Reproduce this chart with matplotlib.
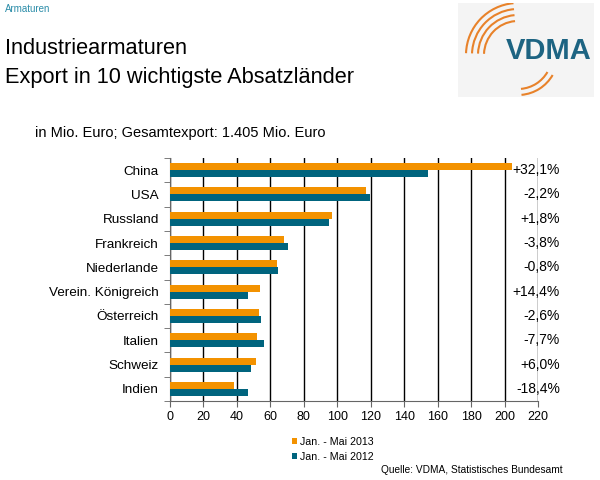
import numpy as np
import matplotlib.pyplot as plt
from matplotlib.patches import Arc, Rectangle

plt.rcParams['font.family'] = ['Liberation Sans', 'DejaVu Sans']

countries = ['China', 'USA', 'Russland', 'Frankreich', 'Niederlande',
             'Verein. Königreich', 'Österreich', 'Italien', 'Schweiz', 'Indien']
exp_2013 = [204.4, 117.2, 96.7, 68.0, 64.2, 53.6, 53.0, 51.8, 51.2, 38.3]
exp_2012 = [154.1, 119.6, 95.1, 70.4, 64.6, 46.9, 54.4, 56.4, 48.7, 46.9]
changes = ['+32,1%', '-2,2%', '+1,8%', '-3,8%', '-0,8%',
           '+14,4%', '-2,6%', '-7,7%', '+6,0%', '-18,4%']
x_ticks = list(range(0, 221, 20))

ORANGE = '#F39200'
TEAL = '#00647E'

fig = plt.figure(figsize=(6, 4.8), dpi=100)

# header texts
fig.text(5 / 600, 1 - 9 / 480, 'Armaturen', fontsize=7, color='#2a8ca8', va='center')
fig.text(5 / 600, 1 - 49 / 480, 'Industriearmaturen', fontsize=15.7, va='center')
fig.text(5 / 600, 1 - 77 / 480, 'Export in 10 wichtigste Absatzländer', fontsize=15.7, va='center')
fig.text(35 / 600, 1 - 133 / 480, 'in Mio. Euro; Gesamtexport: 1.405 Mio. Euro',
         fontsize=10.5, va='center')

# logo (local coords, y up)
lax = fig.add_axes([458 / 600, 1 - 97 / 480, 136 / 600, 94 / 480])
lax.set_xlim(0, 136)
lax.set_ylim(0, 94)
lax.axis('off')
lax.add_patch(Rectangle((0, 0), 136, 94, color='#f4f4f4'))
for r in [34, 40, 46, 52]:
    lax.add_patch(Arc((60, 42), 2 * r, 2 * r, theta1=95, theta2=178,
                      color='#E8822A', lw=1.5))
for r in [34, 40]:
    lax.add_patch(Arc((60, 42), 2 * r, 2 * r, theta1=-85, theta2=-30,
                      color='#E8822A', lw=1.5))
lax.text(134, 46, 'VDMA', fontsize=21, fontweight='bold', color='#1d6482',
         ha='right', va='center')

# main chart
ax = fig.add_axes([170 / 600, 1 - 401 / 480, 368 / 600, 243 / 480])
y = np.arange(len(countries))
h = 0.29
ax.barh(y - h / 2, exp_2013, height=h, color=ORANGE, label='Jan. - Mai 2013', zorder=3)
ax.barh(y + h / 2, exp_2012, height=h, color=TEAL, label='Jan. - Mai 2012', zorder=3)
ax.set_xlim(0, 220)
ax.set_ylim(len(countries) - 0.5, -0.5)
ax.set_xticks(x_ticks)
ax.tick_params(axis='x', labelsize=9, length=4, color='#666666')
ax.set_yticks(y)
ax.set_yticklabels(countries, fontsize=9.7)
ax.tick_params(axis='y', length=0, pad=8)
ax.set_yticks(np.arange(-0.5, len(countries), 1), minor=True)
ax.tick_params(axis='y', which='minor', length=4, color='#666666')
ax.grid(axis='x', color='black', lw=1, zorder=0)
for s in ['top', 'right']:
    ax.spines[s].set_visible(False)
ax.spines['left'].set_color('#666666')
ax.spines['bottom'].set_color('#666666')

for i, c in enumerate(changes):
    ax.text(1.06, i, c, transform=ax.get_yaxis_transform(), ha='right',
            va='center', fontsize=10)

ax.legend(loc='upper left', bbox_to_anchor=(282 / 600, 1 - 427 / 480),
          bbox_transform=fig.transFigure, frameon=False, fontsize=7.7,
          handlelength=0.5, handleheight=0.5, handletextpad=0.3, labelspacing=0.5)

fig.text(563 / 600, 1 - 470 / 480, 'Quelle: VDMA, Statistisches Bundesamt',
         fontsize=7.3, ha='right', va='center')

fig.savefig('out.png', dpi=100)
